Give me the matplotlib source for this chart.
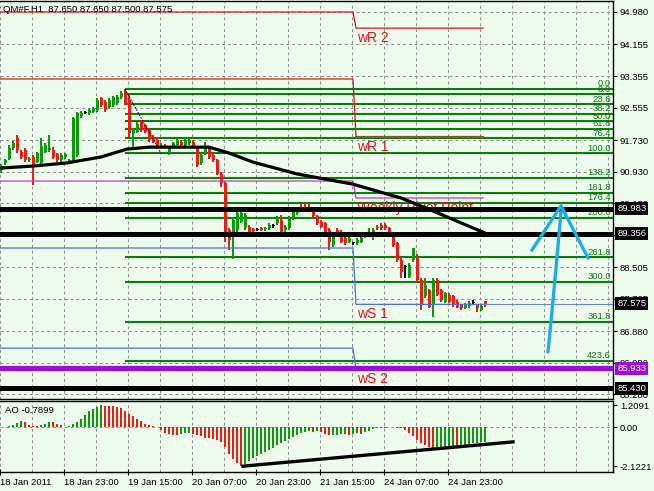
import numpy as np
import matplotlib
matplotlib.use('Agg')
import matplotlib.pyplot as plt
from matplotlib.transforms import blended_transform_factory

plt.rcParams['font.family'] = ['Liberation Sans', 'DejaVu Sans']

# QM#F H1 candles, 18 Jan 07:00 .. 25 Jan 08:00
opens = [90.97, 91.14, 91.26, 91.52, 91.77, 91.43, 91.48, 91.22, 91.31, 91.18,
         91.16, 91.43, 91.48, 91.49, 91.37, 91.22, 91.31, 91.18, 91.18, 91.35,
         92.34, 92.42, 92.41, 92.45, 92.49, 92.79, 92.70, 92.58, 92.62, 92.66,
         92.81, 92.98, 92.75, 91.90, 91.94, 92.19, 92.11, 91.98, 91.81, 91.73,
         91.56, 91.58, 91.39, 91.56, 91.60, 91.69, 91.60, 91.65, 91.69, 91.52,
         91.14, 91.39, 91.52, 91.35, 91.22, 90.88, 90.63, 89.45, 89.36, 89.45,
         89.66, 89.49, 89.53, 89.47, 89.45, 89.49, 89.47, 89.49, 89.55, 89.62,
         89.70, 89.45, 89.49, 89.74, 89.87, 90.04, 90.00, 90.04, 89.91, 89.79,
         89.66, 89.62, 89.45, 89.07, 89.45, 89.40, 89.24, 89.15, 89.11, 89.11,
         89.15, 89.28, 89.32, 89.28, 89.53, 89.57, 89.57, 89.49, 89.36, 89.11,
         88.69, 88.50, 88.26, 88.69, 88.77, 88.18, 87.76, 87.92, 87.54, 88.18,
         87.92, 87.63, 87.80, 87.76, 87.63, 87.54, 87.48, 87.52, 87.60, 87.54,
         87.42, 87.65]
highs = [91.12, 91.26, 91.60, 91.70, 91.86, 91.48, 91.52, 91.31, 91.35, 91.43,
         91.77, 91.65, 91.86, 91.56, 91.41, 91.39, 91.41, 91.26, 92.32, 92.45,
         92.47, 92.47, 92.53, 92.57, 92.79, 92.83, 92.75, 92.79, 92.86, 92.88,
         92.97, 93.02, 92.92, 92.03, 92.20, 92.24, 92.15, 92.03, 91.86, 91.77,
         91.65, 91.62, 91.58, 91.69, 91.77, 91.73, 91.77, 91.77, 91.73, 91.56,
         91.39, 91.69, 91.56, 91.39, 91.26, 90.93, 90.67, 89.50, 89.75, 89.91,
         89.91, 89.87, 89.57, 89.51, 89.49, 89.53, 89.53, 89.62, 89.60, 89.79,
         89.83, 89.57, 89.79, 89.96, 90.04, 90.12, 90.12, 90.12, 89.96, 89.83,
         89.70, 89.66, 89.49, 89.36, 89.49, 89.45, 89.28, 89.28, 89.15, 89.24,
         89.32, 89.36, 89.49, 89.49, 89.57, 89.62, 89.62, 89.53, 89.40, 89.15,
         88.73, 88.56, 88.60, 88.98, 88.85, 88.22, 88.22, 87.96, 88.22, 88.22,
         87.96, 87.88, 87.84, 87.80, 87.67, 87.58, 87.60, 87.65, 87.67, 87.58,
         87.55, 87.65]
lows = [90.90, 91.10, 91.22, 91.48, 91.39, 91.26, 91.18, 91.18, 90.59, 91.14,
        91.12, 91.39, 91.43, 91.26, 91.18, 91.18, 91.26, 91.14, 91.14, 91.31,
        92.30, 92.38, 92.37, 92.41, 92.45, 92.58, 92.45, 92.53, 92.58, 92.62,
        92.77, 92.62, 91.82, 91.52, 91.90, 91.94, 91.90, 91.69, 91.65, 91.52,
        91.52, 91.52, 91.35, 91.52, 91.56, 91.56, 91.56, 91.60, 91.52, 91.05,
        91.10, 91.35, 91.26, 91.18, 90.84, 90.55, 89.15, 88.94, 88.70, 89.40,
        89.62, 89.45, 89.36, 89.40, 89.41, 89.41, 89.43, 89.45, 89.51, 89.57,
        89.36, 89.40, 89.45, 89.70, 89.83, 89.91, 89.91, 89.91, 89.74, 89.57,
        89.49, 89.36, 88.94, 89.02, 89.28, 89.11, 89.07, 89.11, 89.07, 89.07,
        89.11, 89.24, 89.28, 89.19, 89.45, 89.45, 89.45, 89.36, 89.02, 88.64,
        88.22, 88.22, 88.22, 88.64, 88.14, 87.42, 87.72, 87.46, 87.25, 87.76,
        87.63, 87.59, 87.59, 87.50, 87.46, 87.42, 87.44, 87.48, 87.55, 87.37,
        87.40, 87.50]
closes = [91.07, 91.22, 91.52, 91.65, 91.48, 91.31, 91.22, 91.26, 91.10, 91.39,
          91.58, 91.60, 91.52, 91.31, 91.22, 91.35, 91.37, 91.22, 92.28, 92.41,
          92.42, 92.42, 92.49, 92.53, 92.75, 92.62, 92.49, 92.75, 92.81, 92.83,
          92.93, 92.66, 91.90, 91.98, 92.15, 91.98, 91.94, 91.73, 91.69, 91.56,
          91.60, 91.55, 91.54, 91.65, 91.73, 91.60, 91.73, 91.73, 91.56, 91.10,
          91.35, 91.52, 91.31, 91.22, 90.88, 90.63, 89.40, 89.19, 89.70, 89.87,
          89.87, 89.83, 89.40, 89.43, 89.45, 89.45, 89.50, 89.57, 89.55, 89.74,
          89.40, 89.53, 89.74, 89.91, 89.96, 89.96, 89.96, 89.96, 89.79, 89.62,
          89.53, 89.40, 89.15, 89.32, 89.32, 89.15, 89.11, 89.24, 89.11, 89.19,
          89.28, 89.32, 89.40, 89.45, 89.49, 89.49, 89.49, 89.40, 89.07, 88.69,
          88.39, 88.50, 88.56, 88.98, 88.18, 87.54, 88.05, 87.50, 88.18, 87.80,
          87.67, 87.84, 87.63, 87.54, 87.50, 87.46, 87.57, 87.60, 87.60, 87.46,
          87.52, 87.575]

# Awesome Oscillator histogram
ao = [0.02, 0.03, 0.05, 0.15, 0.25, 0.32, 0.28, 0.15, 0.08, 0.05,
      0.10, 0.18, 0.30, 0.27, 0.20, 0.10, 0.04, 0.08, 0.17, 0.28,
      0.46, 0.65, 0.87, 1.02, 1.13, 1.2091, 1.19, 1.17, 1.14, 1.10,
      1.04, 0.90, 0.75, 0.60, 0.45, 0.32, 0.20, 0.11, 0.05, 0.01,
      -0.15, -0.32, -0.38, -0.40, -0.41, -0.36, -0.31, -0.29, -0.38, -0.44,
      -0.50, -0.56, -0.61, -0.66, -0.71, -0.80, -1.10, -1.45, -1.76, -1.98,
      -2.1221, -2.00, -1.85, -1.71, -1.58, -1.46, -1.35, -1.25, -1.13, -0.99,
      -0.85, -0.73, -0.62, -0.51, -0.41, -0.33, -0.27, -0.22, -0.25, -0.20,
      -0.28, -0.36, -0.42, -0.41, -0.40, -0.39, -0.38, -0.40, -0.36, -0.33,
      -0.35, -0.28, -0.22, -0.12, -0.06, -0.03, -0.02, -0.01, 0.00, -0.02,
      -0.06, -0.15, -0.33, -0.50, -0.68, -0.86, -0.97, -1.08, -1.20, -1.12,
      -1.09, -1.06, -1.03, -1.00, -1.07, -0.99, -0.95, -0.92, -0.88, -0.85,
      -0.82, -0.7899]

# moving average (sampled along the curve)
ma_bar = [0, 8, 16.5, 25, 31.5, 37, 52, 57, 63, 74, 88, 100, 108, 121]
ma_val = [91.02, 91.07, 91.15, 91.30, 91.50, 91.55, 91.55, 91.40, 91.17,
          90.87, 90.61, 90.26, 89.93, 89.37]

price_ticks = [94.980, 94.155, 93.355, 92.555, 91.730, 90.930, 90.130,
               89.330, 88.505, 87.705, 86.880, 86.080, 85.280]
hidden_tick = 89.330   # fully covered by the 89.356 box
date_labels = ['18 Jan 2011', '18 Jan 23:00', '19 Jan 15:00', '20 Jan 07:00',
               '20 Jan 23:00', '21 Jan 15:00', '24 Jan 07:00', '24 Jan 23:00']

# fibonacci retracement
fib_high, fib_low = 93.02, 91.39
fib_from, fib_to = 31, 40
fib_levels = [0.0, 8.0, 23.6, 38.2, 50.0, 61.8, 76.4, 100.0, 138.2, 161.8,
              176.4, 200, 261.8, 300, 361.8, 423.6]

# weekly pivots: previous week / current week
pivot_names = ['wR 2', 'wR 1', 'Weekly Pivot Point', 'wS 1', 'wS 2']
pivot_prev = [94.98, 93.28, 90.69, 88.99, 86.45]
pivot_curr = [94.57, 91.81, 90.26, 87.56, 85.92]
week_bar = 89        # first bar of 24 Jan
pivot_last = 120.5

black_levels = [89.983, 89.356, 85.430]
purple_level = 85.933
last_price = 87.575

# hand-drawn arrow
arrow_shaft_x = [136.75, 138.25, 140.0]
arrow_shaft_y = [86.35, 87.92, 89.90]
arrow_head_x = [132.75, 140.0, 146.75]
arrow_head_y = [88.94, 90.06, 88.74]

# AO trendline
ao_line_x = [60.5, 128]
ao_line_y = [-2.13, -0.80]

BG = '#eefcee'
GREEN = '#0f990f'
RED = '#ee1a14'
FIBC = '#0b7d0b'
GRIDC = '#8a8f8a'
FS = 6.8

W, H = 654, 491
fig = plt.figure(figsize=(W / 100, H / 100), dpi=100, facecolor=BG)
ax = fig.add_axes([0, (H - 399) / H, 613 / W, 398 / H], facecolor=BG)
ax2 = fig.add_axes([0, (H - 472) / H, 613 / W, 71 / H], facecolor=BG, sharex=ax)

xmin, xmax = -0.25, 153.0
ax.set_xlim(xmin, xmax)
ax.set_ylim(85.158, 95.259)
ax2.set_ylim(-2.45, 1.44)

grid_x = np.arange(0, 20) * 8 - 0.25
dash = (0, (3, 3))
for a in (ax, ax2):
    for gx in grid_x:
        a.axvline(gx, color=GRIDC, lw=0.7, ls=dash, zorder=0)
for p in price_ticks:
    ax.axhline(p, color=GRIDC, lw=0.7, ls=dash, zorder=0)
ax2.axhline(0, color=GRIDC, lw=0.7, ls=dash, zorder=0)

# spines / ticks
for a in (ax, ax2):
    a.spines['left'].set_visible(False)
    for s in ('top', 'right', 'bottom'):
        a.spines[s].set_color('black')
        a.spines[s].set_linewidth(1.0)
    a.yaxis.tick_right()
    a.tick_params(axis='y', direction='out', length=3, width=0.8, pad=2,
                  labelsize=FS, colors='black')

ax.set_yticks(price_ticks)
ax.set_yticklabels(['' if p == hidden_tick else f'{p:.3f}' for p in price_ticks])
ax.tick_params(axis='x', length=0, labelbottom=False)

ax2.set_yticks([1.2091, 0.0, -2.1221])
ax2.set_yticklabels(['1.2091', '0.00', '-2.1221'])
ax2.set_xticks(np.arange(len(date_labels)) * 16 - 0.25)
ax2.set_xticklabels(date_labels, ha='left')
ax2.tick_params(axis='x', direction='inout', length=5, width=0.8, pad=2,
                labelsize=FS)

# fibonacci levels
rng = fib_high - fib_low
for lv in fib_levels:
    p = fib_high - lv / 100 * rng
    ax.plot([fib_from, xmax], [p, p], color=FIBC, lw=1.5, zorder=2,
            solid_capstyle='butt')
    ax.text(152.5, p + 0.02, f'{lv:.1f}', color=FIBC, fontsize=FS,
            ha='right', va='bottom', zorder=2)
ax.plot([fib_from, fib_to], [fib_high, fib_low], color='black', lw=0.7,
        ls=(0, (1.5, 1.5)), zorder=4)

# weekly pivots
pcolors = ['#e0141e', '#e0141e', '#cc33cc', '#4a6fd8', '#4a6fd8']
for name, pv, cv, col in zip(pivot_names, pivot_prev, pivot_curr, pcolors):
    ax.plot([xmin, week_bar - 1, week_bar - 0.25, pivot_last],
            [pv, pv, cv, cv], color=col, lw=0.9, zorder=4)
    ax.annotate(name, (week_bar, cv), xytext=(0, -2), textcoords='offset points',
                color='#e0141e', fontsize=10, ha='left', va='top', zorder=4)
# wR1 overlapping the 76.4 line
ax.plot([week_bar - 0.25, pivot_last], [pivot_curr[1], pivot_curr[1]],
        color='#86552a', lw=1.6, zorder=4)
ax.plot([pivot_last, xmax], [last_price, last_price], color='#6f86c8', lw=0.8,
        zorder=4)

# candles: wick and body as rectangles
o = np.array(opens); h = np.array(highs); l = np.array(lows); c = np.array(closes)
idx = np.arange(len(o))
cols = np.where(c > o, GREEN, np.where(c < o, RED, 'black'))
ax.bar(idx, h - l, bottom=l, width=0.3, color=cols, lw=0, zorder=3)
ax.bar(idx, np.maximum(np.abs(c - o), 0.025), bottom=np.minimum(o, c),
       width=0.75, color=cols, lw=0, zorder=3)

# moving average
ax.plot(ma_bar, ma_val, color='black', lw=2.3, zorder=5, solid_capstyle='round')

# horizontal thick lines
for lvl in black_levels:
    ax.axhline(lvl, color='black', lw=3.6, zorder=6)
ax.axhline(purple_level, color='#9a10d8', lw=3.8, zorder=6)

# arrow
ax.plot(arrow_shaft_x, arrow_shaft_y, color='#1eaee6', lw=2.4, zorder=7,
        solid_capstyle='round')
ax.plot(arrow_head_x, arrow_head_y, color='#1eaee6', lw=2.4, zorder=7,
        solid_joinstyle='miter')

# price boxes
trans = blended_transform_factory(ax.transAxes, ax.transData)
for val, fc in [(89.983, 'black'), (89.356, 'black'), (last_price, 'black'),
                (purple_level, '#9a10d8'), (85.430, 'black')]:
    ax.text(1.007, val, f'{val:.3f}', transform=trans, color='white',
            fontsize=FS, ha='left', va='center', zorder=8, clip_on=False,
            bbox=dict(boxstyle='square,pad=0.22', fc=fc, ec='none'))

fig.text(3 / W, 1 - 9 / H, 'QM#F.H1  87.650 87.650 87.500 87.575',
         fontsize=FS, ha='left', va='center')

# AO histogram
aov = np.array(ao)
ao_cols = [GREEN if i > 0 and aov[i] > aov[i - 1] else RED for i in range(len(aov))]
ax2.bar(idx, aov, width=0.3, color=ao_cols, lw=0, zorder=3)
ax2.plot(ao_line_x, ao_line_y, color='black', lw=2.4, zorder=4)
ax2.text(0.008, 0.86, 'AO -0.7899', transform=ax2.transAxes, fontsize=FS,
         ha='left', va='center')

fig.savefig('out.png', dpi=100, facecolor=BG)
